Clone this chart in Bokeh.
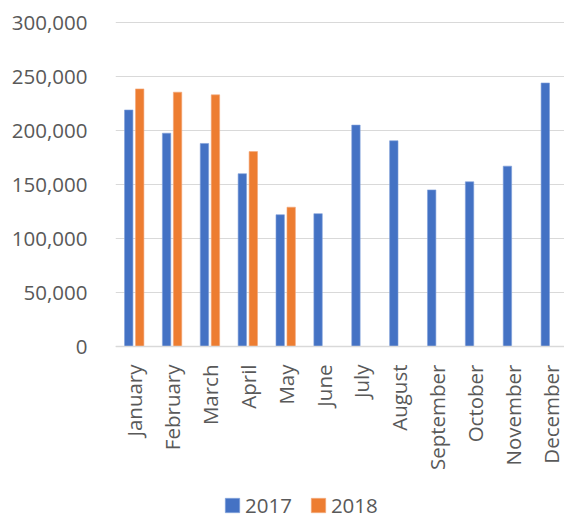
from bokeh.plotting import figure
from bokeh.models import (ColumnDataSource, FixedTicker, NumeralTickFormatter,
                          Legend, LegendItem, Range1d)
from bokeh.embed import file_html
from bokeh.resources import INLINE
import math

months = ["January", "February", "March", "April", "May", "June", "July",
          "August", "September", "October", "November", "December"]
sales_2017 = [219000, 197500, 188000, 160000, 122000, 123000, 205000,
              190500, 145000, 152500, 167000, 244000]
sales_2018 = [238500, 235500, 233000, 180500, 129000, None, None,
              None, None, None, None, None]
series_names = ["2017", "2018"]
y_ticks = [0, 50000, 100000, 150000, 200000, 250000, 300000]

BLUE = "#4472C4"
ORANGE = "#ED7D31"
TXT = "#595959"
FONT = "Open Sans"
FS = "20.5px"

idx = list(range(len(months)))
src17 = ColumnDataSource(dict(x=[i - 0.145 for i in idx], top=sales_2017))
x18 = [i + 0.145 for i, v in zip(idx, sales_2018) if v is not None]
t18 = [v for v in sales_2018 if v is not None]
src18 = ColumnDataSource(dict(x=x18, top=t18))

# frame spans y 20..518; value 0 sits at y=346, 300,000 at y=22
per_px = 300000 / (346 - 22)
y_top = 300000 + 2 * per_px
y_bottom = -(518 - 346) * per_px

p = figure(frame_width=449, frame_height=498, output_backend="svg",
           toolbar_location=None,
           x_range=Range1d(-0.494, 11.362), y_range=Range1d(y_bottom, y_top),
           min_border_left=115, min_border_right=0, min_border_top=20,
           min_border_bottom=0)
p.outline_line_color = None
p.background_fill_color = "white"
p.border_fill_color = "white"

r17 = p.vbar(x="x", top="top", bottom=0, width=0.222, source=src17,
             fill_color=BLUE, line_color="#7FA0DA", line_width=0.6)
r18 = p.vbar(x="x", top="top", bottom=0, width=0.222, source=src18,
             fill_color=ORANGE, line_color="#F4A87A", line_width=0.6)

# x axis, pinned at value 0
xa = p.xaxis[0]
xa.fixed_location = 0
xa.ticker = FixedTicker(ticks=idx)
xa.major_label_overrides = {i: m for i, m in zip(idx, months)}
xa.major_label_orientation = math.pi / 2
xa.major_tick_line_color = None
xa.minor_tick_line_color = None
xa.axis_line_color = "#D9D9D9"
xa.axis_line_width = 1.5
xa.major_label_text_font = FONT
xa.major_label_text_font_size = FS
xa.major_label_text_color = TXT
xa.major_label_standoff = 12
p.xgrid.grid_line_color = None

# y axis
ya = p.yaxis[0]
ya.ticker = FixedTicker(ticks=y_ticks)
ya.formatter = NumeralTickFormatter(format="0,0")
ya.major_tick_line_color = None
ya.minor_tick_line_color = None
ya.axis_line_color = None
ya.major_label_text_font = FONT
ya.major_label_text_font_size = FS
ya.major_label_text_color = TXT
ya.major_label_standoff = 22
p.ygrid.grid_line_color = "#D9D9D9"
p.ygrid.grid_line_width = 1.2
p.ygrid.ticker = FixedTicker(ticks=y_ticks)

legend = Legend(items=[LegendItem(label=series_names[0], renderers=[r17]),
                       LegendItem(label=series_names[1], renderers=[r18])],
                orientation="horizontal", location=(108, -1),
                glyph_width=18, glyph_height=18, label_standoff=4, spacing=17,
                label_text_font=FONT, label_text_font_size=FS,
                label_text_color=TXT, border_line_color=None,
                background_fill_alpha=0, padding=0, margin=0)
p.add_layout(legend, "center")

open("out.html", "w").write(file_html(p, INLINE))
